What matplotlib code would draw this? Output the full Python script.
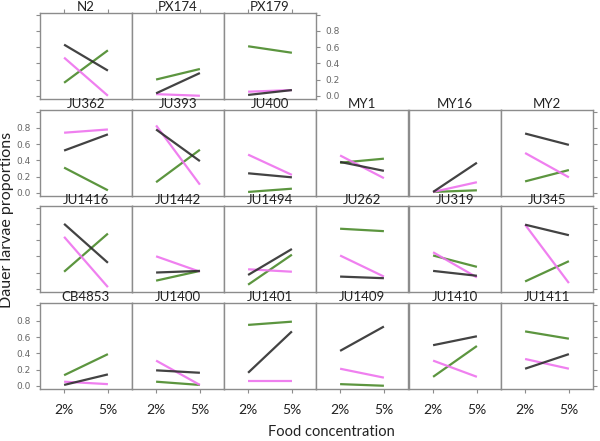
import matplotlib
matplotlib.use("Agg")
import matplotlib.pyplot as plt

# strain panels, laid out row by row (top row has 3 panels)
rows = [
    ["N2", "PX174", "PX179"],
    ["JU362", "JU393", "JU400", "MY1", "MY16", "MY2"],
    ["JU1416", "JU1442", "JU1494", "JU262", "JU319", "JU345"],
    ["CB4853", "JU1400", "JU1401", "JU1409", "JU1410", "JU1411"],
]
food = ["2%", "5%"]

# dauer proportions at 2% and 5% food, one pair per strain
black = {
    "N2": [0.63, 0.31], "PX174": [0.03, 0.28], "PX179": [0.01, 0.07],
    "JU362": [0.52, 0.72], "JU393": [0.78, 0.39], "JU400": [0.24, 0.19],
    "MY1": [0.38, 0.27], "MY16": [0.01, 0.37], "MY2": [0.73, 0.59],
    "JU1416": [0.80, 0.32], "JU1442": [0.20, 0.22], "JU1494": [0.17, 0.49],
    "JU262": [0.15, 0.13], "JU319": [0.22, 0.16], "JU345": [0.79, 0.66],
    "CB4853": [0.01, 0.14], "JU1400": [0.19, 0.16], "JU1401": [0.16, 0.67],
    "JU1409": [0.43, 0.73], "JU1410": [0.50, 0.61], "JU1411": [0.21, 0.39],
}
magenta = {
    "N2": [0.47, 0.00], "PX174": [0.02, 0.00], "PX179": [0.05, 0.07],
    "JU362": [0.74, 0.78], "JU393": [0.83, 0.10], "JU400": [0.47, 0.22],
    "MY1": [0.46, 0.18], "MY16": [0.01, 0.13], "MY2": [0.49, 0.19],
    "JU1416": [0.64, 0.02], "JU1442": [0.40, 0.21], "JU1494": [0.24, 0.21],
    "JU262": [0.41, 0.15], "JU319": [0.45, 0.14], "JU345": [0.79, 0.07],
    "CB4853": [0.05, 0.02], "JU1400": [0.31, 0.01], "JU1401": [0.06, 0.06],
    "JU1409": [0.21, 0.10], "JU1410": [0.31, 0.11], "JU1411": [0.33, 0.21],
}
green = {
    "N2": [0.16, 0.56], "PX174": [0.20, 0.33], "PX179": [0.61, 0.53],
    "JU362": [0.31, 0.03], "JU393": [0.13, 0.53], "JU400": [0.01, 0.05],
    "MY1": [0.37, 0.42], "MY16": [0.01, 0.03], "MY2": [0.14, 0.28],
    "JU1416": [0.21, 0.68], "JU1442": [0.10, 0.22], "JU1494": [0.05, 0.42],
    "JU262": [0.74, 0.71], "JU319": [0.41, 0.27], "JU345": [0.09, 0.34],
    "CB4853": [0.13, 0.39], "JU1400": [0.05, 0.01], "JU1401": [0.75, 0.79],
    "JU1409": [0.02, 0.00], "JU1410": [0.11, 0.49], "JU1411": [0.67, 0.58],
}

W, H = 600, 441
fig = plt.figure(figsize=(6, 4.41), dpi=100)

col_left = [40, 132, 224, 316, 409, 501]
pw = 92
row_top = [13, 110, 206, 303]
ph = 86
frame = "#8c8c8c"
yticks = [0, 0.2, 0.4, 0.6, 0.8, 1.0]
ylabels = ["0.0", "0.2", "0.4", "0.6", "0.8", ""]

for r, names in enumerate(rows):
    for c, name in enumerate(names):
        ax = fig.add_axes([col_left[c] / W, 1 - (row_top[r] + ph) / H, pw / W, ph / H])
        x = [1, 2]
        ax.plot(x, green[name], color="#4a8a2a", lw=1.6, alpha=0.9, solid_capstyle="butt")
        ax.plot(x, magenta[name], color="#ee72ee", lw=1.6, alpha=0.9, solid_capstyle="butt")
        ax.plot(x, black[name], color="#2e2e2e", lw=1.6, alpha=0.9, solid_capstyle="butt")
        ax.set_xlim(0.45, 2.55)
        ax.set_ylim(-0.04, 1.02)
        for s in ax.spines.values():
            s.set_color(frame)
            s.set_linewidth(1.0)
        ax.set_xticks(x)
        ax.set_yticks(yticks)
        ax.tick_params(colors=frame, labelcolor="#666666", labelsize=6.5,
                       length=3, width=0.8, direction="out")
        last = len(names) - 1
        ax.tick_params(axis="y", left=(c == 0), right=(c == last),
                       labelleft=(c == 0 and r in (1, 3)),
                       labelright=(c == last and r == 0))
        ax.set_yticklabels(ylabels)
        ax.tick_params(axis="x", bottom=(r == 3), top=(r == 0),
                       labelbottom=(r == 3), labeltop=False)
        ax.set_xticklabels(food, fontsize=10, color="#222222", family="Lato")
        ax.tick_params(axis="x", pad=8)
        ax.set_title(name, fontsize=9.5, family="Lato", color="#222222", pad=0.5)

fig.text(7 / W, 1 - 220 / H, "Dauer larvae proportions", rotation=90,
         ha="center", va="center", fontsize=11.5, family="Lato", color="#222222")
fig.text(331 / W, 1 - 432 / H, "Food concentration", ha="center", va="center",
         fontsize=10.5, family="Lato", color="#222222")

fig.savefig("out.png", dpi=100)
